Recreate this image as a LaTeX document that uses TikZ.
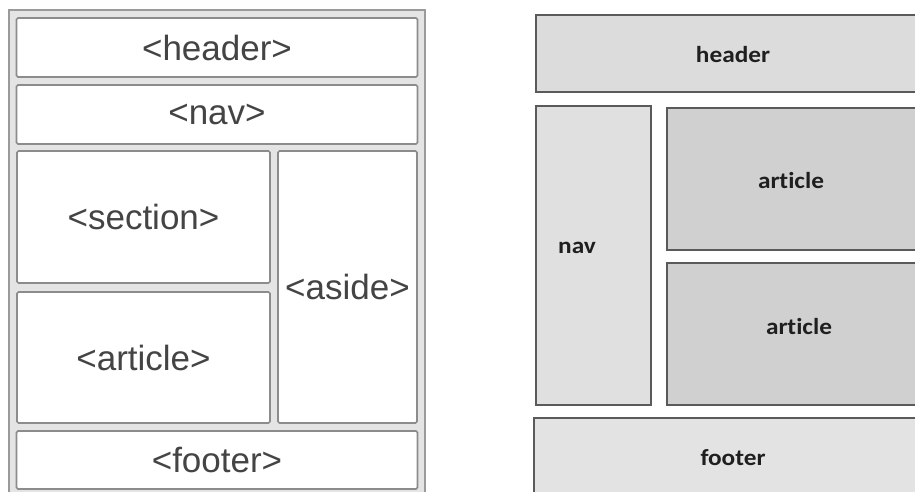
\documentclass[tikz,border=0pt]{standalone}
\usepackage{fontspec}
\setmainfont{Liberation Sans}
\newfontfamily\calfont[FakeStretch=1.1,Ligatures={NoCommon}]{Carlito}
\definecolor{framegray}{HTML}{9A9A9A}
\definecolor{gapgray}{HTML}{E4E4E4}
\definecolor{boxline}{HTML}{8C8C8C}
\definecolor{htext}{HTML}{444444}
\definecolor{rline}{HTML}{5A5A5A}
\definecolor{hfill}{HTML}{DCDCDC}
\definecolor{nfill}{HTML}{E0E0E0}
\definecolor{afill}{HTML}{D0D0D0}
\definecolor{ffill}{HTML}{E3E3E3}
\begin{document}
\begin{tikzpicture}[x=1pt,y=-1pt,
  tagbox/.style={draw=boxline,line width=1.6pt,fill=white,rounded corners=1.5pt,
    text=htext,font=\fontsize{35}{40}\selectfont},
  semtext/.style={text=black!88,font=\calfont\bfseries\fontsize{23}{27}\selectfont},
  semb/.style={semtext,draw=rline,line width=1.3pt}]
\useasboundingbox (0,0) rectangle (915,491);
\fill[white] (0,0) rectangle (915,491);
% left panel frame
\draw[draw=framegray,line width=2pt,fill=gapgray] (9,10) -- (9,495) -- (425,495) -- (425,10) -- cycle;
\node[tagbox,minimum width=401pt,minimum height=59pt] (lh) at (217,47.5) {<header>};
\node[tagbox,minimum width=401pt,minimum height=59pt] (ln) at (217,114.5) {<nav>};
\node[tagbox,minimum width=253pt,minimum height=132pt] (ls) at (143.5,217) {<section>};
\node[tagbox,minimum width=253pt,minimum height=131pt] (la) at (143.5,357.5) {<article>};
\node[tagbox,minimum width=139pt,minimum height=272pt] (lx) at (347.5,287) {<aside>};
\node[tagbox,minimum width=401pt,minimum height=58pt] (lf) at (217,460) {<footer>};
% right panel
\node[semb,fill=hfill,minimum width=400pt,minimum height=77pt] (rh) at (736,53.5) {};
\node[semtext] (rht) at (733,55) {header};
\node[semb,fill=nfill,minimum width=115pt,minimum height=299pt] (rn) at (593.5,255.5) {};
\node[semtext] (rnt) at (577,248) {nav};
\node[semb,fill=afill,minimum width=265pt,minimum height=142pt] (ra1) at (799.5,179) {};
\node[semtext] (ra1t) at (791,181) {article};
\node[semb,fill=afill,minimum width=265pt,minimum height=142pt] (ra2) at (799.5,334) {};
\node[semtext] (ra2t) at (799,327) {article};
\node[semb,fill=ffill,minimum width=400pt,minimum height=90pt] (rf) at (734,463) {};
\node[semtext] (rft) at (733,458) {footer};
\end{tikzpicture}
\end{document}
